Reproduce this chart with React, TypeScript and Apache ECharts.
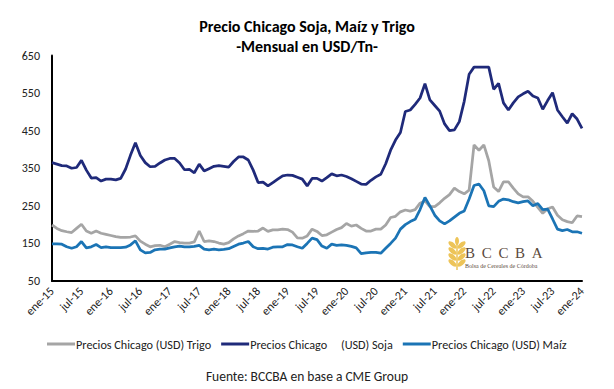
import React, { useEffect, useRef } from 'react';
import * as echarts from 'echarts';

const MONTHS = ['ene', 'feb', 'mar', 'abr', 'may', 'jun', 'jul', 'ago', 'sep', 'oct', 'nov', 'dic'];
const FIRST_YEAR = 15;
const N_MONTHS = 109;
const categories: string[] = [];
for (let i = 0; i < N_MONTHS; i++) {
  categories.push(`${MONTHS[i % 12]}-${FIRST_YEAR + Math.floor(i / 12)}`);
}

const TITLE = 'Precio Chicago Soja, Maíz y Trigo\n-Mensual en USD/Tn-';
const SOURCE = 'Fuente: BCCBA en base a CME Group';
const NAME_TRIGO = 'Precios Chicago (USD) Trigo';
const NAME_SOJA = 'Precios Chicago     (USD) Soja';
const NAME_MAIZ = 'Precios Chicago (USD) Maíz';

const trigo = [
  199, 190, 184, 181, 179, 190, 201, 183, 177, 183, 177, 174,
  171, 168, 166, 166, 167, 170, 156, 148, 141, 144, 145, 141,
  148, 155, 152, 151, 151, 154, 183, 155, 157, 155, 151, 148,
  152, 162, 170, 176, 183, 182, 183, 191, 182, 186, 186, 188,
  187, 180, 165, 164, 170, 188, 182, 171, 173, 180, 187, 192,
  203, 196, 199, 190, 183, 183, 188, 188, 199, 219, 222, 234,
  239, 236, 240, 257, 263, 248, 248, 258, 270, 280, 297, 288,
  282, 292, 412, 398, 412, 370, 300, 288, 314, 314, 297, 282,
  274, 274, 262, 246, 230, 242, 247, 225, 213, 208, 205, 223,
  221,
];

const soja = [
  365, 361, 357, 356, 350, 352, 371, 345, 324, 325, 316, 321,
  321, 319, 323, 348, 385, 418, 384, 365, 354, 355, 364, 372,
  376, 376, 364, 346, 347, 338, 361, 343, 349, 355, 357, 355,
  353, 368, 380, 380, 372, 345, 312, 313, 303, 312, 321, 330,
  332, 331, 326, 321, 303, 323, 323, 316, 325, 335, 330, 332,
  328, 322, 315, 308, 307, 318, 327, 334, 362, 398, 425, 445,
  501, 505, 520, 537, 575, 532, 517, 502, 468, 450, 452, 474,
  528, 600, 619, 619, 619, 619, 560, 576, 524, 505, 524, 540,
  548, 555, 542, 537, 507, 530, 551, 505, 487, 470, 495, 481,
  456,
];

const maiz = [
  149, 149, 148, 141, 137, 141, 155, 138, 141, 147, 139, 141,
  139, 139, 139, 140, 146, 157, 133, 125, 126, 133, 135, 135,
  138, 141, 143, 141, 141, 142, 145, 135, 133, 135, 133, 134,
  136, 142, 148, 151, 155, 141, 136, 137, 135, 140, 141, 141,
  147, 146, 141, 137, 150, 164, 160, 143, 137, 148, 145, 146,
  145, 142, 138, 123, 125, 126, 126, 124, 137, 150, 164, 188,
  200, 208, 214, 240, 272, 250, 225, 210, 202, 210, 220, 230,
  236, 268, 304, 308, 290, 250, 248, 262, 268, 266, 261, 258,
  261, 263, 250, 256, 240, 241, 215, 188, 184, 187, 181, 181,
  177,
];

const Y_MIN = 50;
const Y_MAX = 650;
const Y_STEP = 100;

const FONT = 'Carlito, Lato, "Noto Sans", sans-serif';
const SERIF = '"Liberation Serif", "DejaVu Serif", serif';
const WHEAT = '#EDC458';

function wheatIcon() {
  const cx = 457;
  const kernels: any[] = [];
  const rows = [245, 251, 257, 263];
  rows.forEach((y) => {
    kernels.push({
      type: 'ellipse', x: cx - 4.5, y, rotation: -0.7,
      shape: { cx: 0, cy: 0, rx: 5, ry: 2.3 }, style: { fill: WHEAT },
    });
    kernels.push({
      type: 'ellipse', x: cx + 4.5, y, rotation: 0.7,
      shape: { cx: 0, cy: 0, rx: 5, ry: 2.3 }, style: { fill: WHEAT },
    });
  });
  kernels.push({
    type: 'ellipse', x: cx, y: 241,
    shape: { cx: 0, cy: 0, rx: 2, ry: 4 }, style: { fill: WHEAT },
  });
  kernels.push({
    type: 'line', shape: { x1: cx, y1: 244, x2: cx, y2: 270 },
    style: { stroke: WHEAT, lineWidth: 1.5 },
  });
  return kernels;
}

export default function App() {
  const ref = useRef<HTMLDivElement>(null);
  useEffect(() => {
    if (!ref.current) return;
    const chart = echarts.init(ref.current, undefined, { renderer: 'svg' });
    const letters = ['B', 'C', 'C', 'B', 'A'];
    const option: any = {
      animation: false,
      backgroundColor: '#ffffff',
      title: {
        text: TITLE,
        left: 'center',
        top: 12,
        textStyle: { fontFamily: FONT, fontSize: 16, fontWeight: 'bold', color: '#000', lineHeight: 19.5 },
      },
      grid: { left: 52, right: 32, top: 55.5, bottom: 108, containLabel: false },
      legend: {
        data: [NAME_TRIGO, NAME_SOJA, NAME_MAIZ],
        left: 42,
        top: 333,
        icon: 'rect',
        itemWidth: 28,
        itemHeight: 3,
        itemGap: 10,
        textStyle: { fontFamily: FONT, fontSize: 12.2, color: '#222', padding: [0, 0, 0, -4] },
      },
      xAxis: {
        type: 'category',
        data: categories,
        boundaryGap: false,
        axisLine: { lineStyle: { color: '#000', width: 2 } },
        axisTick: { show: false },
        axisLabel: { interval: 5, rotate: 45, fontFamily: FONT, fontSize: 12, color: '#222', margin: 8 },
        splitLine: { show: false },
      },
      yAxis: {
        type: 'value',
        min: Y_MIN,
        max: Y_MAX,
        interval: Y_STEP,
        axisLine: { show: true, lineStyle: { color: '#000', width: 2 } },
        axisTick: { show: false },
        splitLine: { show: false },
        axisLabel: { fontFamily: FONT, fontSize: 12, color: '#222', margin: 12 },
      },
      series: [
        { name: NAME_TRIGO, type: 'line', data: trigo, symbol: 'none', color: '#A5A5A5', lineStyle: { width: 2.75, color: '#A5A5A5' } },
        { name: NAME_SOJA, type: 'line', data: soja, symbol: 'none', color: '#1F2A7A', lineStyle: { width: 2.75, color: '#1F2A7A' } },
        { name: NAME_MAIZ, type: 'line', data: maiz, symbol: 'none', color: '#1B74B5', lineStyle: { width: 2.75, color: '#1B74B5' } },
      ],
      graphic: [
        {
          type: 'text', left: 'center', top: 369,
          style: { text: SOURCE, fontFamily: FONT, fontSize: 13.5, fill: '#222' },
        },
        ...wheatIcon(),
        ...letters.map((l, i) => ({
          type: 'text', x: 465 + i * 16.7, y: 245,
          style: { text: l, fontFamily: SERIF, fontSize: 15, fill: '#5B4A3C' },
        })),
        {
          type: 'text', x: 465, y: 263,
          style: { text: 'Bolsa de Cereales de Córdoba', fontFamily: SERIF, fontSize: 6, fill: '#5B4A3C' },
        },
      ],
    };
    chart.setOption(option);
    return () => chart.dispose();
  }, []);
  return (
    <div
      ref={ref}
      style={{ position: 'fixed', left: 0, top: 0, width: 614, height: 389, background: '#fff' }}
    />
  );
}
